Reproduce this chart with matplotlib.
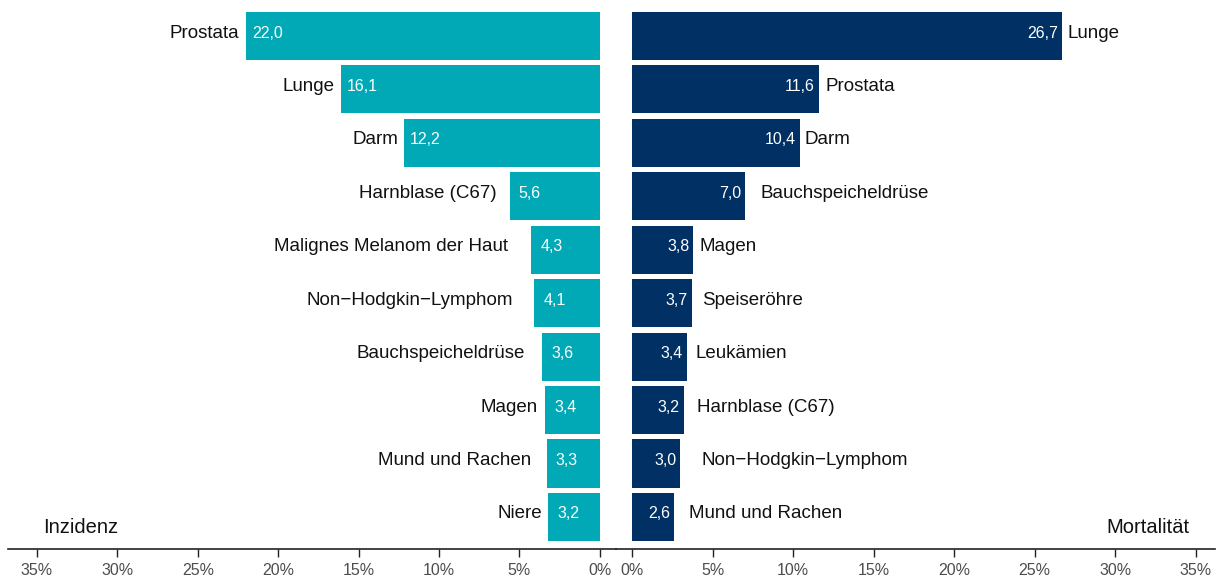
import matplotlib.pyplot as plt

# Incidence (left) and mortality (right), percent shares
inz_labels = ['Prostata', 'Lunge', 'Darm', 'Harnblase (C67)', 'Malignes Melanom der Haut',
              'Non\u2212Hodgkin\u2212Lymphom', 'Bauchspeicheldrüse', 'Magen', 'Mund und Rachen', 'Niere']
inz_values = [22.0, 16.1, 12.2, 5.6, 4.3, 4.1, 3.6, 3.4, 3.3, 3.2]

mort_labels = ['Lunge', 'Prostata', 'Darm', 'Bauchspeicheldrüse', 'Magen', 'Speiseröhre',
               'Leukämien', 'Harnblase (C67)', 'Non\u2212Hodgkin\u2212Lymphom', 'Mund und Rachen']
mort_values = [26.7, 11.6, 10.4, 7.0, 3.8, 3.7, 3.4, 3.2, 3.0, 2.6]

ticks = [0, 5, 10, 15, 20, 25, 30, 35]
tick_labels = [f'{t}%' for t in ticks]

TEAL = '#00A9B5'
NAVY = '#003064'
plt.rcParams['font.family'] = ['Liberation Sans', 'DejaVu Sans']

# label gaps in pixels (the original has uneven spacing)
inz_pad = [7, 6, 5, 13, 23, 21, 17, 7, 16, 6]
inz_val_pad = [6, 6, 6, 9, 10, 10, 9, 9, 9, 9]
mort_pad = [5, 7, 5, 16, 6, 10, 9, 13, 21, 15]

W, H = 1223, 578
fig = plt.figure(figsize=(W / 100, H / 100), dpi=100)
axb = 1 - 549 / H
axh = 549 / H
ax_l = fig.add_axes([8 / W, axb, (616 - 8) / W, axh])
ax_r = fig.add_axes([616 / W, axb, (1215 - 616) / W, axh])

ypos = list(range(len(inz_values)))
px = 0.72  # pixel -> points
up = 3 * px  # text sits slightly above bar centre

ax_l.barh(ypos, inz_values, height=0.9, color=TEAL)
ax_r.barh(ypos, mort_values, height=0.9, color=NAVY)

for i, (lab, v) in enumerate(zip(inz_labels, inz_values)):
    ax_l.annotate(lab, (v, i), xytext=(-inz_pad[i] * px, up), textcoords='offset points',
                  ha='right', va='center', fontsize=13.5, color='#111111')
    ax_l.annotate(f'{v:.1f}'.replace('.', ','), (v, i), xytext=(inz_val_pad[i] * px, up),
                  textcoords='offset points', ha='left', va='center', fontsize=11.5, color='white')

for i, (lab, v) in enumerate(zip(mort_labels, mort_values)):
    ax_r.annotate(lab, (v, i), xytext=(mort_pad[i] * px, up), textcoords='offset points',
                  ha='left', va='center', fontsize=13.5, color='#111111')
    ax_r.annotate(f'{v:.1f}'.replace('.', ','), (v, i), xytext=(-4 * px, up),
                  textcoords='offset points', ha='right', va='center', fontsize=11.5, color='white')

ax_l.set_xlim(36.8, -1.0)
ax_r.set_xlim(-1.0, 36.2)
for ax in (ax_l, ax_r):
    ax.set_ylim(9.6, -0.674)
    ax.set_yticks([])
    ax.set_xticks(ticks)
    ax.set_xticklabels(tick_labels)
    ax.tick_params(axis='x', length=6, width=1, color='#222222', labelcolor='#4d4d4d',
                   labelsize=11.5, pad=4)
    for s in ('top', 'left', 'right'):
        ax.spines[s].set_visible(False)
    ax.spines['bottom'].set_color('#222222')
    ax.spines['bottom'].set_linewidth(1.2)
    ax.patch.set_alpha(0)

ax_l.text(34.6, 9.2, 'Inzidenz', ha='left', va='center', fontsize=14.5, color='#111111')
ax_r.text(34.6, 9.2, 'Mortalität', ha='right', va='center', fontsize=14.5, color='#111111')

fig.savefig('out.png', dpi=100)
